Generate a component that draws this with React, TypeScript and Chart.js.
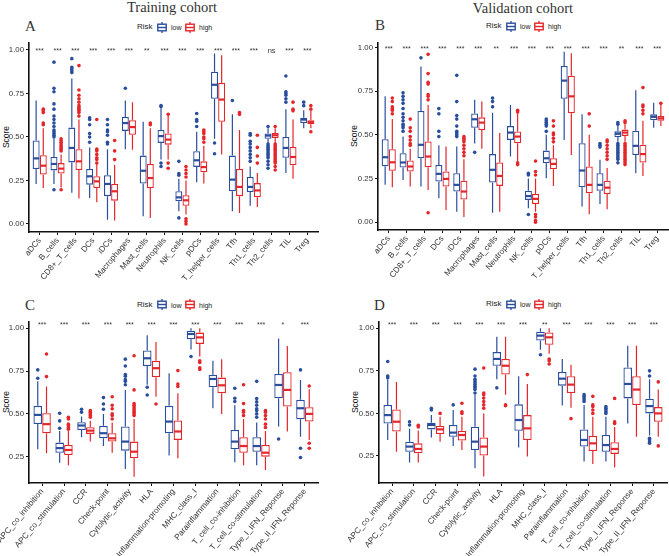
import React, { useEffect, useRef } from "react";
import { Chart, registerables } from "chart.js";
Chart.register(...registerables);

const LOW_COLOR = "#2A4E9E";
const HIGH_COLOR = "#E4262B";
const SANS = "'Liberation Sans', Arial, sans-serif";
const SERIF = "'Liberation Serif', 'Times New Roman', serif";

// ---------- categories ----------
const immuneCells = ["aDCs", "B_cells", "CD8+_T_cells", "DCs", "iDCs", "Macrophages", "Mast_cells", "Neutrophils", "NK_cells", "pDCs", "T_helper_cells", "Tfh", "Th1_cells", "Th2_cells", "TIL", "Treg"];
const immuneFunctions = ["APC_co_inhibition", "APC_co_stimulation", "CCR", "Check-point", "Cytolytic_activity", "HLA", "Inflammation-promoting", "MHC_class_I", "Parainflammation", "T_cell_co-inhibition", "T_cell_co-stimulation", "Type_I_IFN_Reponse", "Type_II_IFN_Reponse"];

const yTicksCells = [0, 0.25, 0.5, 0.75, 1];
const yTicksFunctions = [0.25, 0.5, 0.75, 1];

// ---------- box statistics: [lower whisker, Q1, median, Q3, upper whisker] ----------
// Panel A: training cohort, immune cells
const trainCellLow = [
  [0.23, 0.316, 0.377, 0.48, 0.71], [0.23, 0.308, 0.345, 0.385, 0.49], [0.18, 0.354, 0.437, 0.554, 0.836], [0.15, 0.226, 0.274, 0.316, 0.44],
  [0.025, 0.16, 0.23, 0.28, 0.43], [0.43, 0.535, 0.58, 0.615, 0.71], [0.045, 0.232, 0.306, 0.393, 0.587], [0.37, 0.466, 0.505, 0.54, 0.67],
  [0.073, 0.13, 0.153, 0.188, 0.26], [0.24, 0.328, 0.366, 0.418, 0.53], [0.49, 0.72, 0.80, 0.875, 0.98], [0.073, 0.188, 0.255, 0.393, 0.63],
  [0.105, 0.184, 0.213, 0.27, 0.33], [0.465, 0.49, 0.508, 0.52, 0.55], [0.293, 0.38, 0.437, 0.50, 0.66], [0.55, 0.58, 0.60, 0.61, 0.654],
];
const trainCellHigh = [
  [0.207, 0.284, 0.335, 0.395, 0.55], [0.21, 0.29, 0.318, 0.35, 0.40], [0.146, 0.31, 0.36, 0.43, 0.60], [0.125, 0.207, 0.245, 0.274, 0.34],
  [0.02, 0.134, 0.188, 0.23, 0.34], [0.427, 0.513, 0.557, 0.596, 0.70], [0.035, 0.207, 0.264, 0.345, 0.55], [0.37, 0.456, 0.485, 0.52, 0.62],
  [0.054, 0.105, 0.136, 0.165, 0.25], [0.232, 0.297, 0.327, 0.36, 0.45], [0.40, 0.587, 0.715, 0.81, 0.97], [0.063, 0.16, 0.213, 0.316, 0.54],
  [0.098, 0.153, 0.193, 0.235, 0.293], [0.465, 0.494, 0.51, 0.523, 0.55], [0.26, 0.337, 0.385, 0.443, 0.60], [0.55, 0.573, 0.585, 0.596, 0.65],
];
const trainCellLowOut = [
  [], [0.197, 0.50, 0.51, 0.52, 0.53, 0.54, 0.56, 0.58, 0.60, 0.62, 0.66, 0.69, 0.76, 0.78, 0.93], [0.87, 0.88, 0.89, 0.90, 0.95], [0.47, 0.50, 0.52, 0.57, 0.60, 0.61],
  [0.46, 0.47, 0.51, 0.53, 0.54, 0.57, 0.60], [0.78], [], [0.33, 0.35, 0.675, 0.68],
  [0.035, 0.28, 0.29, 0.36], [0.56, 0.59, 0.60, 0.635], [0.404, 0.465], [0.71],
  [0.36, 0.38, 0.40, 0.42, 0.44, 0.46, 0.475, 0.51, 0.52], [0.32, 0.34, 0.36, 0.38, 0.39, 0.40, 0.41, 0.42, 0.43, 0.44, 0.45, 0.46, 0.56], [0.70, 0.72, 0.74, 0.75, 0.76, 0.85], [0.68, 0.70],
];
const trainCellHighOut = [
  [0.57, 0.58, 0.64, 0.65, 0.66], [0.197, 0.42, 0.43, 0.44, 0.45, 0.46, 0.47, 0.48, 0.49], [0.62, 0.64, 0.65, 0.66, 0.67, 0.68, 0.70, 0.72, 0.74, 0.77, 0.91], [0.35, 0.37, 0.38, 0.40, 0.42, 0.43, 0.60],
  [0.37, 0.42, 0.48], [], [0.57, 0.58], [0.32, 0.35, 0.63],
  [0.0, 0.015, 0.03, 0.27, 0.29, 0.31, 0.33], [0.47, 0.49, 0.50, 0.52, 0.53, 0.54], [], [0.63, 0.64],
  [0.35, 0.39, 0.44, 0.51], [0.31, 0.33, 0.35, 0.36, 0.37, 0.38, 0.39, 0.40, 0.41, 0.42, 0.43, 0.44, 0.45, 0.46, 0.56], [0.65, 0.66, 0.70], [0.53, 0.66, 0.68],
];
const trainCellSig = ["***", "***", "***", "***", "***", "***", "**", "***", "***", "***", "***", "***", "***", "ns", "***", "***"];

// Panel B: validation cohort, immune cells
const validCellLow = [
  [0.214, 0.32, 0.372, 0.475, 0.72], [0.242, 0.313, 0.342, 0.395, 0.49], [0.204, 0.366, 0.443, 0.636, 0.89], [0.137, 0.233, 0.277, 0.328, 0.44],
  [0.061, 0.176, 0.214, 0.28, 0.433], [0.45, 0.54, 0.589, 0.622, 0.70], [0.055, 0.227, 0.30, 0.39, 0.626], [0.376, 0.471, 0.513, 0.55, 0.67],
  [0.08, 0.128, 0.15, 0.18, 0.25], [0.252, 0.338, 0.366, 0.41, 0.50], [0.47, 0.706, 0.81, 0.894, 0.975], [0.09, 0.20, 0.296, 0.452, 0.617],
  [0.105, 0.18, 0.214, 0.28, 0.357], [0.46, 0.487, 0.506, 0.52, 0.55], [0.28, 0.385, 0.437, 0.523, 0.755], [0.541, 0.583, 0.603, 0.617, 0.683],
];
const validCellHigh = [
  [0.20, 0.294, 0.343, 0.418, 0.59], [0.204, 0.29, 0.319, 0.353, 0.42], [0.185, 0.315, 0.376, 0.462, 0.67], [0.07, 0.204, 0.248, 0.29, 0.433],
  [0.03, 0.13, 0.176, 0.238, 0.36], [0.42, 0.528, 0.57, 0.60, 0.69], [0.061, 0.208, 0.265, 0.342, 0.51], [0.35, 0.452, 0.49, 0.519, 0.62],
  [0.06, 0.105, 0.134, 0.162, 0.25], [0.208, 0.303, 0.334, 0.366, 0.44], [0.385, 0.623, 0.72, 0.838, 0.966], [0.046, 0.166, 0.214, 0.319, 0.50],
  [0.074, 0.162, 0.198, 0.238, 0.31], [0.46, 0.494, 0.513, 0.53, 0.56], [0.265, 0.342, 0.39, 0.443, 0.58], [0.55, 0.58, 0.594, 0.607, 0.673],
];
const validCellLowOut = [
  [], [0.52, 0.54, 0.55, 0.56, 0.58, 0.60, 0.62, 0.65, 0.68, 0.70, 0.72, 0.74], [0.94], [0.49, 0.52, 0.62, 0.65],
  [0.49, 0.50, 0.51, 0.52, 0.55, 0.59, 0.61, 0.69, 0.84], [0.40], [0.66, 0.69, 0.71], [],
  [0.045, 0.27, 0.28], [0.52, 0.55, 0.56, 0.57, 0.58, 0.59], [], [],
  [0.43, 0.44, 0.45], [0.34, 0.36, 0.37, 0.38, 0.39, 0.40, 0.41, 0.42, 0.43, 0.44, 0.45, 0.56, 0.57], [], [],
];
const validCellHighOut = [
  [0.62, 0.64, 0.65, 0.66, 0.69, 0.71], [0.44, 0.45, 0.47, 0.49, 0.52, 0.54, 0.59], [0.055, 0.70, 0.72, 0.73, 0.79, 0.80, 0.85, 0.96], [],
  [0.38, 0.40, 0.42, 0.44, 0.46, 0.47, 0.48, 0.49], [], [], [0.33, 0.34, 0.63, 0.64],
  [0.0, 0.01, 0.03, 0.045, 0.27, 0.29, 0.35], [0.46, 0.48, 0.50, 0.51, 0.55, 0.58], [], [0.55, 0.62],
  [0.36, 0.38, 0.40, 0.42, 0.44, 0.46, 0.47], [0.33, 0.34, 0.35, 0.36, 0.37, 0.38, 0.39, 0.40, 0.41, 0.42, 0.43, 0.44, 0.45, 0.57, 0.58], [0.62, 0.64, 0.66, 0.67, 0.77], [0.68],
];
const validCellSig = ["***", "***", "***", "***", "***", "***", "**", "***", "***", "***", "***", "***", "***", "**", "***", "***"];

// Panel C: training cohort, immune functions
const trainFuncLow = [
  [0.293, 0.441, 0.494, 0.547, 0.69], [0.215, 0.273, 0.30, 0.332, 0.40], [0.363, 0.406, 0.432, 0.451, 0.485], [0.312, 0.357, 0.387, 0.43, 0.50],
  [0.178, 0.285, 0.338, 0.426, 0.64], [0.67, 0.78, 0.825, 0.87, 0.96], [0.256, 0.387, 0.455, 0.547, 0.737], [0.877, 0.936, 0.967, 0.986, 1.0],
  [0.533, 0.656, 0.704, 0.728, 0.81], [0.217, 0.293, 0.338, 0.406, 0.55], [0.20, 0.279, 0.312, 0.363, 0.45], [0.426, 0.591, 0.669, 0.733, 0.94],
  [0.367, 0.469, 0.533, 0.582, 0.698],
];
const trainFuncHigh = [
  [0.27, 0.387, 0.44, 0.504, 0.66], [0.20, 0.26, 0.289, 0.318, 0.40], [0.338, 0.383, 0.402, 0.422, 0.46], [0.273, 0.338, 0.357, 0.387, 0.45],
  [0.133, 0.24, 0.279, 0.338, 0.47], [0.60, 0.714, 0.767, 0.81, 0.92], [0.24, 0.348, 0.397, 0.461, 0.62], [0.835, 0.909, 0.947, 0.975, 1.0],
  [0.50, 0.62, 0.667, 0.712, 0.82], [0.20, 0.273, 0.312, 0.363, 0.47], [0.172, 0.25, 0.273, 0.318, 0.40], [0.397, 0.543, 0.64, 0.743, 0.897],
  [0.348, 0.455, 0.50, 0.539, 0.644],
];
const trainFuncLowOut = [
  [0.708, 0.757], [0.416, 0.459, 0.504], [0.51, 0.527], [0.527, 0.558, 0.595],
  [0.67, 0.69, 0.70, 0.72, 0.73, 0.78, 0.82], [0.61, 0.656], [], [0.835],
  [], [0.572, 0.591, 0.65], [0.48, 0.50, 0.52, 0.53, 0.55, 0.57, 0.59, 0.69], [0.353],
  [0.245, 0.299, 0.757],
];
const trainFuncHighOut = [
  [0.718, 0.85], [0.41, 0.42, 0.43, 0.44, 0.47, 0.48], [0.48, 0.49, 0.50, 0.51, 0.52], [0.47, 0.49, 0.50, 0.53, 0.55, 0.60],
  [0.49, 0.50, 0.51, 0.52, 0.53, 0.54, 0.55, 0.56, 0.64, 0.84], [0.558], [0.66, 0.675, 0.753], [0.76, 0.77, 0.80, 0.81],
  [], [0.49, 0.51, 0.52, 0.56, 0.67], [0.42, 0.44, 0.47, 0.49, 0.51, 0.52], [],
  [0.299, 0.328, 0.663],
];
const trainFuncSig = ["***", "***", "***", "***", "***", "***", "***", "***", "***", "***", "***", "*", "***"];

// Panel D: validation cohort, immune functions
const validFuncLow = [
  [0.344, 0.441, 0.49, 0.549, 0.70], [0.211, 0.275, 0.305, 0.334, 0.41], [0.359, 0.406, 0.432, 0.445, 0.49], [0.309, 0.363, 0.387, 0.432, 0.52],
  [0.178, 0.285, 0.334, 0.422, 0.61], [0.70, 0.78, 0.82, 0.86, 0.95], [0.30, 0.398, 0.461, 0.553, 0.718], [0.874, 0.928, 0.957, 0.98, 1.0],
  [0.547, 0.663, 0.704, 0.743, 0.82], [0.217, 0.305, 0.344, 0.406, 0.55], [0.217, 0.275, 0.314, 0.373, 0.48], [0.441, 0.588, 0.673, 0.77, 0.897],
  [0.37, 0.50, 0.543, 0.586, 0.70],
];
const validFuncHigh = [
  [0.275, 0.393, 0.451, 0.523, 0.685], [0.211, 0.266, 0.291, 0.324, 0.40], [0.334, 0.379, 0.406, 0.426, 0.48], [0.285, 0.34, 0.373, 0.398, 0.48],
  [0.129, 0.252, 0.305, 0.359, 0.50], [0.61, 0.728, 0.78, 0.82, 0.95], [0.246, 0.344, 0.412, 0.49, 0.673], [0.85, 0.903, 0.947, 0.975, 1.0],
  [0.533, 0.62, 0.669, 0.718, 0.786], [0.203, 0.279, 0.324, 0.367, 0.48], [0.184, 0.262, 0.291, 0.33, 0.42], [0.363, 0.549, 0.64, 0.718, 0.897],
  [0.363, 0.451, 0.50, 0.537, 0.64],
];
const validFuncLowOut = [
  [0.71, 0.72, 0.805], [0.432, 0.451], [0.52, 0.53], [0.55],
  [0.62, 0.64, 0.65, 0.66, 0.67, 0.68, 0.69, 0.70, 0.72, 0.76], [0.65], [], [0.845],
  [], [0.57, 0.58, 0.59, 0.60, 0.61], [0.50, 0.51, 0.52, 0.53, 0.54], [],
  [0.325, 0.334, 0.345, 0.354, 0.72, 0.75],
];
const validFuncHighOut = [
  [], [0.42, 0.43], [0.50], [0.50, 0.51, 0.56],
  [0.53, 0.55, 0.57, 0.59, 0.61, 0.62, 0.767], [0.545, 0.55], [0.728], [0.79, 0.81, 0.82],
  [0.469], [0.50, 0.52, 0.54, 0.55, 0.60], [0.44, 0.45, 0.588], [],
  [0.309, 0.685],
];
const validFuncSig = ["***", "***", "***", "***", "***", "***", "***", "**", "***", "***", "***", "***", "***"];

// ---------- plugin: whiskers, medians, outliers, significance ----------
const boxExtras = {
  id: "boxExtras",
  afterDatasetsDraw(chart: any, _args: any, opts: any) {
    const ctx = chart.ctx;
    const ys = chart.scales.y;
    const xs = chart.scales.x;
    chart.data.datasets.forEach((ds: any, di: number) => {
      const meta = chart.getDatasetMeta(di);
      meta.data.forEach((el: any, j: number) => {
        const s = ds.stats[j];
        const cx = el.x;
        const w = el.width;
        ctx.save();
        ctx.strokeStyle = ds.borderColor;
        ctx.fillStyle = ds.borderColor;
        ctx.lineWidth = 1.2;
        ctx.beginPath();
        ctx.moveTo(cx, ys.getPixelForValue(s[3]));
        ctx.lineTo(cx, ys.getPixelForValue(s[4]));
        ctx.moveTo(cx, ys.getPixelForValue(s[1]));
        ctx.lineTo(cx, ys.getPixelForValue(s[0]));
        ctx.stroke();
        ctx.lineWidth = 2.2;
        ctx.beginPath();
        const my = ys.getPixelForValue(s[2]);
        ctx.moveTo(cx - w / 2 + 0.5, my);
        ctx.lineTo(cx + w / 2 - 0.5, my);
        ctx.stroke();
        (ds.outliers[j] || []).forEach((v: number) => {
          ctx.beginPath();
          ctx.arc(cx, ys.getPixelForValue(v), 1.8, 0, Math.PI * 2);
          ctx.fill();
        });
        ctx.restore();
      });
    });
    const sig = opts.sig || [];
    ctx.save();
    ctx.fillStyle = "#333";
    ctx.textAlign = "center";
    ctx.textBaseline = "middle";
    sig.forEach((t: string, j: number) => {
      ctx.font = (t === "ns" ? "7.5px " : "7px ") + SANS;
      const yy = ys.getPixelForValue(opts.sigY) + (t === "ns" ? 1 : 1.5);
      ctx.fillText(t, xs.getPixelForValue(j), yy);
    });
    ctx.restore();
  },
};

type PanelProps = {
  left: number; top: number; width: number; height: number;
  labels: string[];
  lowStats: number[][]; highStats: number[][];
  lowOut: number[][]; highOut: number[][];
  sig: string[]; sigY: number;
  yMin: number; yMax: number; yTicks: number[];
  axisWidth: number; padTop: number; padRight: number; xAxisHeight: number;
};

function BoxPanel(p: PanelProps) {
  const ref = useRef<HTMLCanvasElement>(null);
  useEffect(() => {
    const mk = (label: string, stats: number[][], out: number[][], color: string) => ({
      label,
      data: stats.map((s) => [s[1], s[3]]),
      stats,
      outliers: out,
      backgroundColor: "#ffffff",
      borderColor: color,
      borderWidth: 1.3,
      borderSkipped: false,
      categoryPercentage: 0.8,
      barPercentage: 0.98,
    });
    const chart = new Chart(ref.current as HTMLCanvasElement, {
      type: "bar",
      data: {
        labels: p.labels,
        datasets: [mk("low", p.lowStats, p.lowOut, LOW_COLOR), mk("high", p.highStats, p.highOut, HIGH_COLOR)] as any,
      },
      options: {
        responsive: false,
        animation: false,
        devicePixelRatio: 1,
        layout: { padding: { top: p.padTop, right: p.padRight, left: 0, bottom: 0 } },
        plugins: {
          legend: { display: false },
          tooltip: { enabled: false },
          boxExtras: { sig: p.sig, sigY: p.sigY },
        } as any,
        scales: {
          x: {
            type: "category",
            offset: true,
            grid: { drawOnChartArea: false, offset: false, color: "#111", tickLength: 3, lineWidth: 1 },
            border: { display: true, color: "#111", width: 1.6 },
            ticks: { autoSkip: false, minRotation: 50, maxRotation: 50, padding: 1, color: "#333", font: { family: SANS, size: 8.2 } },
            afterBuildTicks: (s: any) => {
              s._startValue = -0.6;
              s._valueRange = p.labels.length - 1 + 1.2;
            },
            afterFit: (s: any) => {
              s.height = p.xAxisHeight;
              s.paddingLeft = 0;
              s.paddingRight = 0;
            },
          },
          y: {
            type: "linear",
            min: p.yMin,
            max: p.yMax,
            grid: { drawOnChartArea: false, color: "#111", tickLength: 3, lineWidth: 1 },
            border: { display: true, color: "#111", width: 1.6 },
            ticks: { padding: 2, color: "#333", font: { family: SANS, size: 7.8 }, callback: (v: any) => Number(v).toFixed(2) },
            afterBuildTicks: (s: any) => {
              s.ticks = p.yTicks.map((v) => ({ value: v }));
            },
            afterFit: (s: any) => {
              s.width = p.axisWidth;
              s.paddingTop = 0;
              s.paddingBottom = 0;
            },
          },
        } as any,
      },
      plugins: [boxExtras as any],
    });
    return () => chart.destroy();
  }, []);
  return (
    <canvas
      ref={ref}
      width={p.width}
      height={p.height}
      style={{ position: "absolute", left: p.left, top: p.top, width: p.width, height: p.height }}
    />
  );
}

function BoxIcon({ color, x, y }: { color: string; x: number; y: number }) {
  return (
    <svg width={10} height={11} style={{ position: "absolute", left: x, top: y - 5.5 }}>
      <line x1={5} y1={0} x2={5} y2={11} stroke={color} strokeWidth={1.3} />
      <rect x={0.8} y={2.2} width={8.4} height={6.6} fill="#fff" stroke={color} strokeWidth={1.4} />
      <line x1={0.8} y1={5.5} x2={9.2} y2={5.5} stroke={color} strokeWidth={1.4} />
    </svg>
  );
}

function Legend({ x, y }: { x: number; y: number }) {
  const txt = (t: string, left: number, size: number) => (
    <div style={{ position: "absolute", left, top: y, transform: "translateY(-50%)", fontFamily: SANS, fontSize: size, lineHeight: 1, color: "#222", whiteSpace: "nowrap" }}>{t}</div>
  );
  return (
    <>
      {txt("Risk", x, 8)}
      <BoxIcon color={LOW_COLOR} x={x + 20} y={y} />
      {txt("low", x + 34, 7)}
      <BoxIcon color={HIGH_COLOR} x={x + 48} y={y} />
      {txt("high", x + 62, 7)}
    </>
  );
}

function Text({ t, x, y, size, center }: { t: string; x: number; y: number; size: number; center?: boolean }) {
  return (
    <div style={{ position: "absolute", left: x, top: y, transform: center ? "translateX(-50%)" : undefined, fontFamily: SERIF, fontSize: size, lineHeight: "15px", color: "#333", whiteSpace: "nowrap" }}>{t}</div>
  );
}

function ScoreLabel({ x, y }: { x: number; y: number }) {
  return (
    <div style={{ position: "absolute", left: x, top: y, transform: "translate(-50%, -50%) rotate(-90deg)", fontFamily: SANS, fontSize: 8.5, lineHeight: 1, color: "#111", whiteSpace: "nowrap" }}>Score</div>
  );
}

export default function App() {
  return (
    <div style={{ position: "absolute", left: 0, top: 0, width: 669, height: 556, background: "#fff", overflow: "hidden" }}>
      <Text t="Training cohort" x={172} y={0.3} size={14.5} center />
      <Text t="Validation cohort" x={523} y={1} size={14.5} center />
      <Text t="A" x={25} y={19.4} size={15} />
      <Text t="B" x={375} y={18.4} size={15} />
      <Text t="C" x={25} y={298.4} size={15} />
      <Text t="D" x={374} y={298.4} size={15} />
      <Legend x={137} y={27} />
      <Legend x={486} y={26} />
      <Legend x={137} y={304.5} />
      <Legend x={486} y={304} />
      <ScoreLabel x={6} y={137} />
      <ScoreLabel x={354} y={136} />
      <ScoreLabel x={6} y={402} />
      <ScoreLabel x={355} y={402} />
      <BoxPanel left={0} top={40} width={335} height={262} labels={immuneCells}
        lowStats={trainCellLow} highStats={trainCellHigh} lowOut={trainCellLowOut} highOut={trainCellHighOut}
        sig={trainCellSig} sigY={1.0} yMin={-0.046} yMax={1.04} yTicks={yTicksCells}
        axisWidth={29} padTop={3} padRight={17} xAxisHeight={70} />
      <BoxPanel left={335} top={40} width={334} height={262} labels={immuneCells}
        lowStats={validCellLow} highStats={validCellHigh} lowOut={validCellLowOut} highOut={validCellHighOut}
        sig={validCellSig} sigY={1.0} yMin={-0.044} yMax={1.025} yTicks={yTicksCells}
        axisWidth={43} padTop={3} padRight={1} xAxisHeight={72} />
      <BoxPanel left={0} top={318} width={335} height={238} labels={immuneFunctions}
        lowStats={trainFuncLow} highStats={trainFuncHigh} lowOut={trainFuncLowOut} highOut={trainFuncHighOut}
        sig={trainFuncSig} sigY={1.03} yMin={0.096} yMax={1.037} yTicks={yTicksFunctions}
        axisWidth={29} padTop={4} padRight={17} xAxisHeight={73} />
      <BoxPanel left={335} top={318} width={334} height={238} labels={immuneFunctions}
        lowStats={validFuncLow} highStats={validFuncHigh} lowOut={validFuncLowOut} highOut={validFuncHighOut}
        sig={validFuncSig} sigY={1.03} yMin={0.091} yMax={1.037} yTicks={yTicksFunctions}
        axisWidth={44} padTop={4} padRight={2} xAxisHeight={73} />
    </div>
  );
}
